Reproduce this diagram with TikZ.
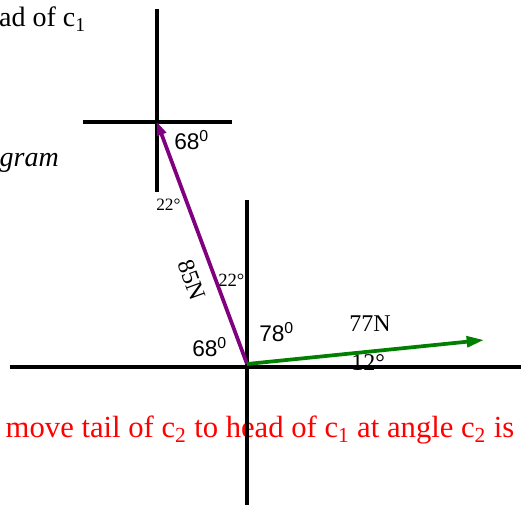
\documentclass[tikz,border=0pt]{standalone}
\usepackage{fontspec}
\setmainfont{Liberation Serif}
\newfontfamily\arialfont{Liberation Sans}
\usetikzlibrary{arrows.meta,positioning}
\tikzset{
  axisln/.style={line width=3pt},
  vecln/.style={line width=2.8pt, -{Triangle[length=10pt,width=7pt]}},
  angsf/.style={font=\arialfont\fontsize{17}{20}\selectfont, inner sep=0pt, anchor=base west},
  degsm/.style={font=\fontsize{14}{16}\selectfont, inner sep=0pt, anchor=base west},
  lbl/.style={font=\fontsize{18}{20}\selectfont, inner sep=0pt},
  big/.style={font=\fontsize{21}{24}\selectfont, inner sep=0pt},
  every picture/.style={line join=round}
}
\definecolor{vpurple}{RGB}{128,0,128}
\definecolor{vgreen}{RGB}{0,128,0}

\begin{document}
\begin{tikzpicture}[x=0.75pt,y=-0.75pt]
  \useasboundingbox (0,0) rectangle (521,505);

  % texts
  \node[big, anchor=base east] (head) at (86,27) {ad of c\textsubscript{1}};
  \node[big, anchor=base east, font=\fontsize{21}{24}\selectfont\itshape] (gram) at (59,167) {gram};
  \node[angsf] (a68top) at (174,150) {68\textsuperscript{0}};
  \node[degsm, font=\fontsize{13}{15}\selectfont] (a22top) at (156,211) {22°};
  \node[lbl, rotate=-70] (f85) at (192,280) {85N};
  \node[degsm] (a22) at (218,287) {22°};
  \node[angsf] (a78) at (259,342) {78\textsuperscript{0}};
  \node[angsf] (a68) at (192,357) {68\textsuperscript{0}};
  \node[lbl, anchor=base west] (f77) at (349,332) {77N};
  \node[lbl, anchor=base west] (a12) at (351,371) {12°};
  \node[big, anchor=base, text=red, font=\fontsize{23}{27}\selectfont] (note) at (260,438)
    {move tail of c\textsubscript{2} to head of c\textsubscript{1} at angle c\textsubscript{2} is};

  % axes
  \coordinate (tN) at (157,9);
  \coordinate (tS) at (157,192);
  \coordinate (tW) at (83,122);
  \coordinate (tE) at (232,122);
  \coordinate (mN) at (247,200);
  \coordinate (mS) at (247,505);
  \coordinate (mW) at (10,367);
  \coordinate (mE) at (521,367);
  \draw[axisln] (tN) -- (tS);
  \draw[axisln] (tW) -- (tE);
  \draw[axisln] (mN) -- (mS);
  \draw[axisln] (mW) -- (mE);

  % vectors
  \coordinate (o) at (247,364);
  \coordinate (c1) at (157,122);
  \coordinate (c2) at (484,340);
  \draw[vecln, vpurple] (o) -- (c1);
  \draw[vecln, vgreen, -{Triangle[length=13pt,width=8pt]}] (o) -- (c2);
\end{tikzpicture}
\end{document}
